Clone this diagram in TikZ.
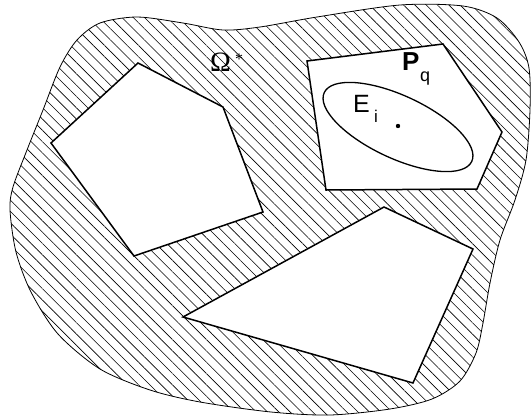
\documentclass[tikz,border=0pt]{standalone}
\usepackage{fontspec}
\setmainfont{Liberation Sans}
\newfontfamily\serifont{Liberation Serif}
\usetikzlibrary{patterns.meta}
\begin{document}
\begin{tikzpicture}[x=1pt,y=-1pt,
  hole/.style={draw=black, line width=1.5pt, fill=white, line join=miter},
  blob/.style={draw=black, line width=0.8pt, pattern={Lines[angle=-45,distance=8pt,line width=0.6pt]}},
  lbl/.style={inner sep=0pt, anchor=base west}]
\useasboundingbox (0,0) rectangle (531,416);
% outer region Omega*
\path[blob] plot[smooth cycle, tension=0.5] coordinates {
 (10,210) (16,252) (31,292) (58,334) (100,369) (150,390) (200,402) (271,412)
 (330,415) (390,409) (432,399) (460,381) (476,353) (483,323) (490,283) (500,240)
 (515,200) (526,160) (530,110) (529,68) (519,42) (497,18) (463,6) (400,5)
 (317,17) (260,27) (223,30) (183,23) (137,17) (100,23) (77,40) (60,67)
 (43,110) (27,150) (13,187)};
% holes
\draw[hole] (138,63) -- (223,107) -- (263,212) -- (134,256) -- (51,143) -- cycle;
\draw[hole] (307,61) -- (443,44) -- (502,132) -- (477,189) -- (326,190) -- cycle;
\draw[hole] (384,207) -- (473,249) -- (413,383) -- (183,317) -- cycle;
% ellipse and centre
\draw[line width=1.3pt, rotate around={-25:(398,127)}] (398,127) ellipse (81.4 and 31.3);
\fill (398,126) circle (2.2);
% labels
\node[lbl] (om) at (210,71) {\serifont\fontsize{28}{28}\selectfont Ω};
\node[lbl] (st) at (235,64) {\serifont\fontsize{16}{16}\selectfont *};
\node[lbl] (E) at (353,112) {\fontsize{25}{25}\selectfont E};
\node[lbl] (i) at (374,122) {\fontsize{17}{17}\selectfont i};
\node[lbl] (P) at (402,70) {\fontsize{26}{26}\selectfont\bfseries P};
\node[lbl] (q) at (420,81) {\fontsize{18}{18}\selectfont q};
\end{tikzpicture}
\end{document}
